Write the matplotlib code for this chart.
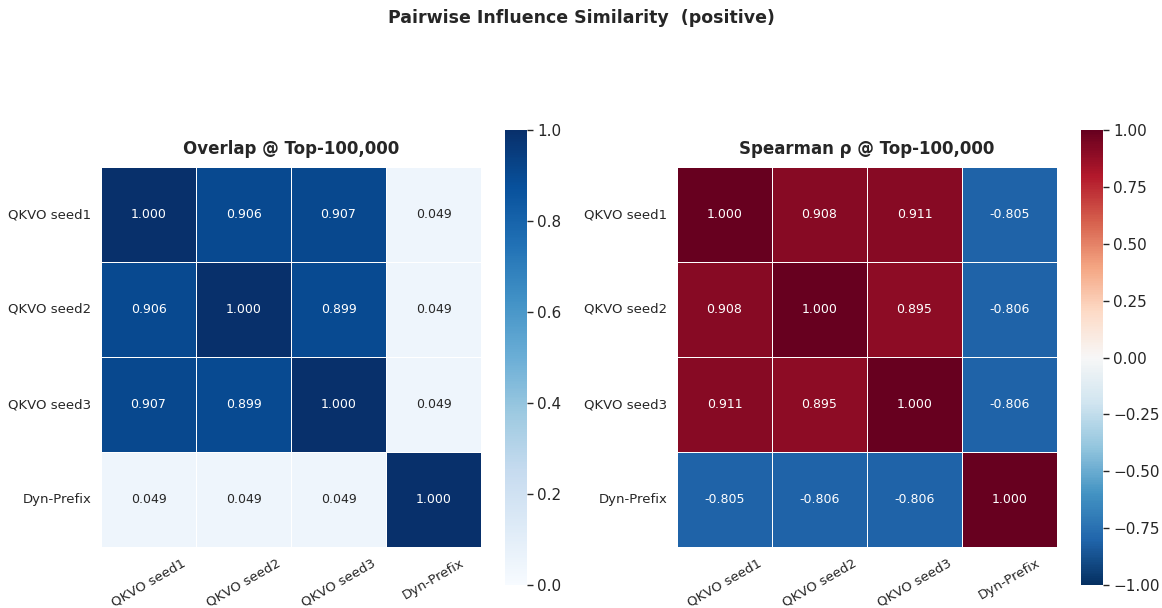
import numpy as np
import matplotlib
matplotlib.use("Agg")
import matplotlib.pyplot as plt
import seaborn as sns

labels = ["QKVO seed1", "QKVO seed2", "QKVO seed3", "Dyn-Prefix"]

overlap = np.array([
    [1.000, 0.906, 0.907, 0.049],
    [0.906, 1.000, 0.899, 0.049],
    [0.907, 0.899, 1.000, 0.049],
    [0.049, 0.049, 0.049, 1.000],
])

spearman = np.array([
    [1.000, 0.908, 0.911, -0.805],
    [0.908, 1.000, 0.895, -0.806],
    [0.911, 0.895, 1.000, -0.806],
    [-0.805, -0.806, -0.806, 1.000],
])

sns.set_theme(style="white")
plt.rcParams['font.family'] = ['DejaVu Sans']

W, H = 1162, 608
fig = plt.figure(figsize=(W / 100, H / 100), dpi=100)


def box(x0, y0, x1, y1):
    # pixel box -> figure fraction
    return [x0 / W, 1 - y1 / H, (x1 - x0) / W, (y1 - y0) / H]


ax1 = fig.add_axes(box(101, 167, 481, 547))
cax1 = fig.add_axes(box(505, 130, 527, 585))
ax2 = fig.add_axes(box(677, 167, 1057, 547))
cax2 = fig.add_axes(box(1081, 130, 1103, 585))

sns.heatmap(overlap, ax=ax1, cbar_ax=cax1, cmap="Blues", vmin=0, vmax=1,
            annot=True, fmt=".3f", annot_kws={"size": 9},
            linewidths=0.5, linecolor="white",
            xticklabels=labels, yticklabels=labels)
sns.heatmap(spearman, ax=ax2, cbar_ax=cax2, cmap="RdBu_r", vmin=-1, vmax=1,
            annot=True, fmt=".3f", annot_kws={"size": 9},
            linewidths=0.5, linecolor="white",
            xticklabels=labels, yticklabels=labels)

ax1.set_title("Overlap @ Top-100,000", fontsize=12, fontweight="bold", pad=9)
ax2.set_title("Spearman ρ @ Top-100,000", fontsize=12, fontweight="bold", pad=9)

for ax in (ax1, ax2):
    ax.tick_params(axis="both", length=0, labelsize=9.5, pad=7)
    plt.setp(ax.get_xticklabels(), rotation=30, ha="center")
    plt.setp(ax.get_yticklabels(), rotation=0)

for cax in (cax1, cax2):
    cax.tick_params(axis="y", length=4, width=1, labelsize=11, right=True, color="#262626")

cax1.set_yticks([0.0, 0.2, 0.4, 0.6, 0.8, 1.0])
cax2.set_yticks([-1.0, -0.75, -0.5, -0.25, 0.0, 0.25, 0.5, 0.75, 1.0])
cax2.set_yticklabels(["−1.00", "−0.75", "−0.50", "−0.25", "0.00", "0.25", "0.50", "0.75", "1.00"])

fig.suptitle("Pairwise Influence Similarity  (positive)", fontsize=12.5, fontweight="bold", y=0.985)

plt.savefig("out.png", dpi=100)
